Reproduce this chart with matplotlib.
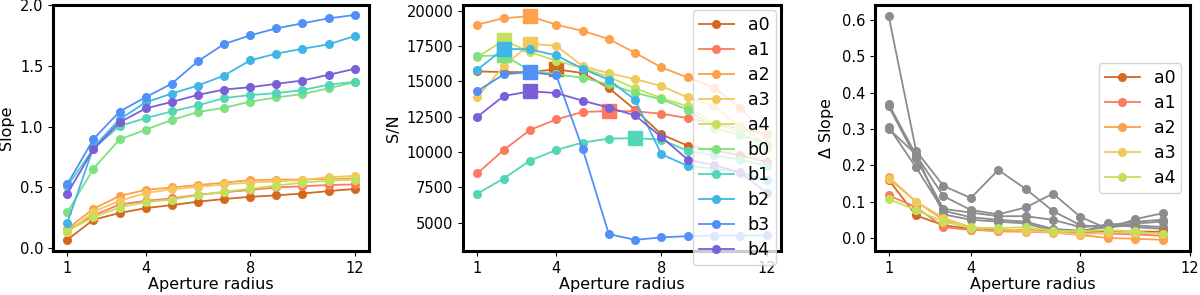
import numpy as np
import matplotlib
matplotlib.use("Agg")
import matplotlib.pyplot as plt

radius = np.arange(1, 13)
radius_d = np.arange(1, 12)

names = ['a0', 'a1', 'a2', 'a3', 'a4', 'b0', 'b1', 'b2', 'b3', 'b4']
colors = ['#d2691e', '#fd7a5f', '#ffa04a', '#f2c85a', '#c4e05a',
          '#7ee07e', '#52d6b6', '#40b6e8', '#5090f8', '#7b5fd8']

# slope vs aperture radius
slope_a0 = [0.07, 0.235, 0.29, 0.33, 0.355, 0.383, 0.405, 0.423, 0.435, 0.45, 0.47, 0.488]
slope_a1 = [0.15, 0.27, 0.36, 0.39, 0.41, 0.44, 0.46, 0.48, 0.50, 0.51, 0.52, 0.525]
slope_a2 = [0.16, 0.325, 0.43, 0.48, 0.50, 0.52, 0.54, 0.56, 0.565, 0.565, 0.57, 0.575]
slope_a3 = [0.13, 0.30, 0.39, 0.455, 0.485, 0.505, 0.525, 0.54, 0.55, 0.56, 0.585, 0.595]
slope_a4 = [0.145, 0.255, 0.335, 0.38, 0.40, 0.435, 0.465, 0.49, 0.515, 0.54, 0.555, 0.565]
slope_b0 = [0.295, 0.655, 0.895, 0.975, 1.055, 1.12, 1.155, 1.205, 1.24, 1.268, 1.315, 1.365]
slope_b1 = [0.51, 0.82, 1.005, 1.07, 1.125, 1.175, 1.235, 1.26, 1.275, 1.30, 1.345, 1.368]
slope_b2 = [0.21, 0.83, 1.06, 1.20, 1.272, 1.338, 1.42, 1.545, 1.60, 1.64, 1.676, 1.745]
slope_b3 = [0.527, 0.898, 1.124, 1.242, 1.354, 1.538, 1.679, 1.75, 1.808, 1.849, 1.89, 1.918]
slope_b4 = [0.45, 0.815, 1.035, 1.15, 1.203, 1.261, 1.305, 1.324, 1.352, 1.379, 1.426, 1.475]

# S/N vs aperture radius
sn_a0 = [15700, 15650, 15650, 15850, 15580, 14520, 12990, 11250, 10450, 10120, 9770, 9300]
sn_a1 = [8500, 10150, 11560, 12310, 12830, 12900, 12880, 12710, 12400, 12000, 11650, 11250]
sn_a2 = [19010, 19460, 19600, 18990, 18570, 17980, 17010, 15980, 15270, 14550, 13110, 11280]
sn_a3 = [13890, 16070, 17650, 17510, 16070, 15560, 15160, 14660, 13860, 13230, 11820, 10500]
sn_a4 = [16710, 17900, 17060, 16450, 15950, 15300, 14500, 13820, 13230, 12000, 11400, 10300]
sn_b0 = [16780, 16830, 15770, 15490, 15250, 14780, 14190, 13720, 12990, 11720, 11180, 10600]
sn_b1 = [7070, 8130, 9400, 10150, 10670, 10950, 10980, 10880, 10080, 9770, 9470, 9020]
sn_b2 = [15820, 17300, 17250, 16830, 15890, 15110, 13680, 9840, 9020, 8830, 8550, 8010]
sn_b3 = [14310, 15490, 15650, 15420, 10240, 4200, 3800, 3970, 4060, 4100, 4100, 4110]
sn_b4 = [12500, 13960, 14290, 14170, 13630, 13140, 12590, 11070, 9470, 9070, 8570, 7120]

# change in slope
dslope_a0 = [0.16, 0.062, 0.035, 0.025, 0.022, 0.022, 0.018, 0.015, 0.02, 0.018, 0.017]
dslope_a1 = [0.117, 0.085, 0.03, 0.022, 0.02, 0.02, 0.018, 0.015, 0.012, 0.01, 0.006]
dslope_a2 = [0.167, 0.10, 0.05, 0.025, 0.018, 0.017, 0.015, 0.008, 0.0, -0.002, -0.005]
dslope_a3 = [0.162, 0.10, 0.055, 0.03, 0.025, 0.02, 0.016, 0.01, 0.015, 0.015, 0.012]
dslope_a4 = [0.107, 0.077, 0.045, 0.028, 0.027, 0.03, 0.02, 0.018, 0.022, 0.018, 0.01]
dslope_b0 = [0.30, 0.23, 0.065, 0.05, 0.045, 0.04, 0.02, 0.015, 0.04, 0.03, 0.025]
dslope_b1 = [0.305, 0.194, 0.075, 0.057, 0.05, 0.045, 0.025, 0.02, 0.03, 0.035, 0.03]
dslope_b2 = [0.368, 0.228, 0.115, 0.077, 0.065, 0.084, 0.122, 0.058, 0.025, 0.052, 0.068]
dslope_b3 = [0.61, 0.24, 0.143, 0.11, 0.187, 0.135, 0.074, 0.035, 0.03, 0.04, 0.045]
dslope_b4 = [0.362, 0.219, 0.08, 0.07, 0.06, 0.06, 0.05, 0.03, 0.035, 0.045, 0.05]

slopes = [slope_a0, slope_a1, slope_a2, slope_a3, slope_a4,
          slope_b0, slope_b1, slope_b2, slope_b3, slope_b4]
sns_ = [sn_a0, sn_a1, sn_a2, sn_a3, sn_a4, sn_b0, sn_b1, sn_b2, sn_b3, sn_b4]
dslopes = [dslope_a0, dslope_a1, dslope_a2, dslope_a3, dslope_a4,
           dslope_b0, dslope_b1, dslope_b2, dslope_b3, dslope_b4]

fig = plt.figure(figsize=(12, 2.95), dpi=100)
W, H = 1200, 295
ax1 = fig.add_axes([53 / W, 1 - 251 / H, 316 / W, 246 / H])
ax2 = fig.add_axes([463 / W, 1 - 251 / H, 318 / W, 246 / H])
ax3 = fig.add_axes([875 / W, 1 - 251 / H, 315 / W, 246 / H])

lw, ms = 1.3, 5.5
for s, c, n in zip(slopes, colors, names):
    ax1.plot(radius, s, '-o', color=c, lw=lw, ms=ms, label=n)
ax1.set_ylim(top=2.0)
ax1.set_ylabel('Slope', fontsize=11.5)

for s, c, n in zip(sns_, colors, names):
    ax2.plot(radius, s, '-o', color=c, lw=lw, ms=ms, label=n)
    i = int(np.argmax(s))
    ax2.plot(radius[i], s[i], 's', color=c, ms=9.5)
ax2.set_ylabel('S/N', fontsize=11.5)
ax2.legend(loc='upper right', fontsize=12.5, handlelength=2.0,
           labelspacing=0.4, borderpad=0.35, borderaxespad=0.3)

for k, (s, n) in enumerate(zip(dslopes, names)):
    if k >= 5:
        ax3.plot(radius_d, s, '-o', color='#8c8c8c', lw=lw, ms=ms)
for k, (s, c, n) in enumerate(zip(dslopes, colors, names)):
    if k < 5:
        ax3.plot(radius_d, s, '-o', color=c, lw=lw, ms=ms, label=n)
ax3.set_xlim(0.5, 12)
ax3.set_ylabel(r'$\Delta$ Slope', fontsize=11.5)
ax3.legend(loc='center right', fontsize=12.5, handlelength=2.0,
           labelspacing=0.4, borderpad=0.35)

for ax in (ax1, ax2, ax3):
    ax.set_xticks([1, 4, 8, 12])
    ax.set_xlabel('Aperture radius', fontsize=11.5, labelpad=1)
    ax.tick_params(labelsize=10.5)
    for sp in ax.spines.values():
        sp.set_linewidth(2.2)

fig.savefig('out.png', dpi=100)
